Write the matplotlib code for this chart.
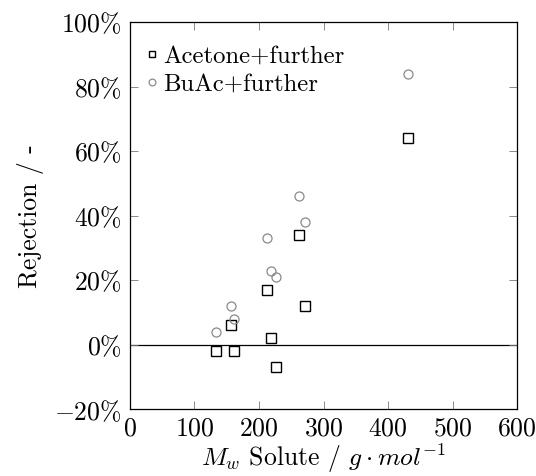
import numpy as np
import matplotlib.pyplot as plt
from matplotlib.ticker import FuncFormatter, MultipleLocator

plt.rcParams['font.family'] = 'serif'
plt.rcParams['font.serif'] = ['cmr10']
plt.rcParams['mathtext.fontset'] = 'cm'
plt.rcParams['axes.formatter.use_mathtext'] = True
plt.rcParams['axes.unicode_minus'] = False

# molecular weight of the solutes (g/mol)
mw = [134, 157, 162, 212, 219, 226, 262, 271, 431]
# rejection in percent for each solvent system
rej_acetone = [-2, 6, -2, 17, 2, -7, 34, 12, 64]
rej_buac = [4, 12, 8, 33, 23, 21, 46, 38, 84]

fs = 18.5

fig = plt.figure(figsize=(5.36, 4.76), dpi=100)
ax = fig.add_axes([0.2425, 0.140, 0.7221, 0.8138])

ax.axhline(0, color='k', lw=0.9, zorder=1)
ax.plot(mw, rej_acetone, ls='none', marker='s', ms=6.5, mfc='none',
        mec='k', mew=1.0, label='Acetone+further', zorder=3)
ax.plot(mw, rej_buac, ls='none', marker='o', ms=6.5, mfc='none',
        mec='#8a8a8a', mew=0.9, label='BuAc+further', zorder=3)

ax.set_xlim(0, 600)
ax.set_ylim(-20, 100)
ax.xaxis.set_major_locator(MultipleLocator(100))
ax.yaxis.set_major_locator(MultipleLocator(20))
ax.yaxis.set_major_formatter(FuncFormatter(lambda v, p: r'$%d\%%$' % round(v)))
ax.xaxis.set_major_formatter(FuncFormatter(lambda v, p: r'$%d$' % round(v)))

ax.tick_params(direction='in', length=6, width=0.6, color='#777777',
               top=True, right=True, labelsize=fs)
ax.tick_params(axis='y', pad=6)
ax.tick_params(axis='x', pad=5)
for s in ax.spines.values():
    s.set_linewidth(0.9)

ax.set_xlabel(r'$M_w$ Solute / $g \cdot mol^{-1}$', fontsize=fs, labelpad=1)
ax.set_ylabel('Rejection / -', fontsize=fs, labelpad=7)

leg = ax.legend(loc='upper left', bbox_to_anchor=(0.026, 0.955), frameon=False,
                fontsize=17.8, handlelength=0.5, handletextpad=0.2,
                borderaxespad=0.0, labelspacing=0.2, markerscale=0.75,
                borderpad=0.25)

fig.savefig('out.png', dpi=100)
